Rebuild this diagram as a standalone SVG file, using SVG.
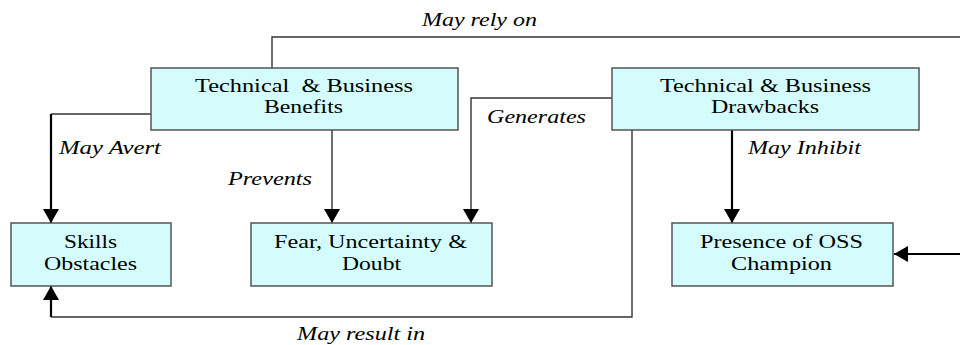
<svg xmlns="http://www.w3.org/2000/svg" width="960" height="345" viewBox="0 0 960 345">
<style>
.box{fill:#d4fcfc;stroke:#555;stroke-width:1.5}
.nt{font-family:"Liberation Serif","Times New Roman",serif;font-size:19px;fill:#000}
.lb{font-family:"Liberation Serif","Times New Roman",serif;font-size:18.5px;font-style:italic;fill:#000}
.thin{fill:none;stroke:#333;stroke-width:1.4}
.thick{fill:none;stroke:#000;stroke-width:2.2}
</style>
<defs>
<marker id="ah" markerUnits="userSpaceOnUse" markerWidth="14" markerHeight="16" refX="14" refY="8" orient="auto">
<path d="M0,0 L14,8 L0,16 Z" fill="#000"/>
</marker>
</defs>
<rect width="960" height="345" fill="#fff"/>
<g id="connectors">
<path class="thin" d="M272,68 V37 H960"/>
<path class="thick" d="M960,254 H894" marker-end="url(#ah)"/>
<path class="thin" d="M151,114 H51"/>
<path class="thick" d="M51,114 V223" marker-end="url(#ah)"/>
<path class="thin" d="M332,130 V223" marker-end="url(#ah)"/>
<path class="thin" d="M612,98 H471 V223" marker-end="url(#ah)"/>
<path class="thick" d="M732,130 V223" marker-end="url(#ah)"/>
<path class="thin" d="M632,130 V317 H51"/>
<path class="thick" d="M51,317 V286" marker-end="url(#ah)"/>
<text class="lb" x="422" y="26" textLength="115" lengthAdjust="spacingAndGlyphs">May rely on</text>
<text class="lb" x="59" y="154" textLength="102" lengthAdjust="spacingAndGlyphs">May Avert</text>
<text class="lb" x="228" y="185" textLength="84" lengthAdjust="spacingAndGlyphs">Prevents</text>
<text class="lb" x="487" y="123" textLength="99" lengthAdjust="spacingAndGlyphs">Generates</text>
<text class="lb" x="748" y="154" textLength="113" lengthAdjust="spacingAndGlyphs">May Inhibit</text>
<text class="lb" x="297" y="340" textLength="128" lengthAdjust="spacingAndGlyphs">May result in</text>
</g>
<g id="benefits">
<rect class="box" x="151" y="68" width="307" height="62"/>
<text class="nt" x="195" y="92" textLength="218" lengthAdjust="spacingAndGlyphs" xml:space="preserve">Technical  &amp; Business</text>
<text class="nt" x="264" y="113" textLength="79" lengthAdjust="spacingAndGlyphs">Benefits</text>
</g>
<g id="drawbacks">
<rect class="box" x="612" y="68" width="307" height="62"/>
<text class="nt" x="660" y="92" textLength="211" lengthAdjust="spacingAndGlyphs">Technical &amp; Business</text>
<text class="nt" x="711" y="113" textLength="108" lengthAdjust="spacingAndGlyphs">Drawbacks</text>
</g>
<g id="skills">
<rect class="box" x="11" y="223" width="160" height="63"/>
<text class="nt" x="64" y="248" textLength="53" lengthAdjust="spacingAndGlyphs">Skills</text>
<text class="nt" x="44" y="270" textLength="93" lengthAdjust="spacingAndGlyphs">Obstacles</text>
</g>
<g id="fud">
<rect class="box" x="251" y="223" width="241" height="63"/>
<text class="nt" x="274" y="248" textLength="193" lengthAdjust="spacingAndGlyphs">Fear, Uncertainty &amp;</text>
<text class="nt" x="342" y="270" textLength="59" lengthAdjust="spacingAndGlyphs">Doubt</text>
</g>
<g id="champion">
<rect class="box" x="672" y="223" width="221" height="63"/>
<text class="nt" x="700" y="248" textLength="163" lengthAdjust="spacingAndGlyphs">Presence of OSS</text>
<text class="nt" x="731" y="270" textLength="101" lengthAdjust="spacingAndGlyphs">Champion</text>
</g>
</svg>
